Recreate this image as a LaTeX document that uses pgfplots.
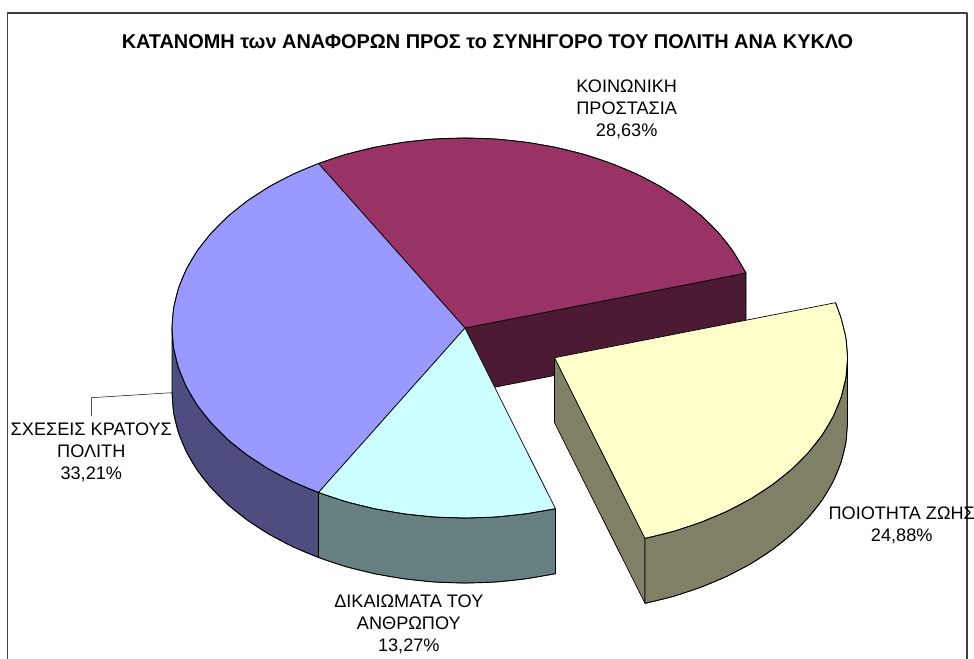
\documentclass[border=0pt]{standalone}
\usepackage{pgfplots}
\pgfplotsset{compat=1.18}
\usepackage{fontspec}
\setmainfont{Liberation Sans}
\definecolor{blueTop}{HTML}{9999FF}
\definecolor{blueSide}{HTML}{4D4D80}
\definecolor{maroonTop}{HTML}{993366}
\definecolor{maroonSide}{HTML}{4D1A33}
\definecolor{cyanTop}{HTML}{CCFFFF}
\definecolor{cyanSide}{HTML}{668080}
\definecolor{yellowTop}{HTML}{FFFFCC}
\definecolor{yellowSide}{HTML}{808066}
\begin{document}
\begin{tikzpicture}
\useasboundingbox (0,0) rectangle (974bp,659bp);
\begin{axis}[
  at={(0,0)}, anchor=south west,
  scale only axis, width=974bp, height=659bp,
  xmin=0, xmax=974, ymin=0, ymax=659, y dir=reverse,
  hide axis, clip=false,
  every axis plot/.append style={no markers, line join=round, line width=0.7bp, draw=black}
]
% frame
\addplot[sharp plot, draw=black!75, line width=1.1bp] coordinates {(7.5,659) (7.5,13) (967,13) (967,659)};
% maroon side wall
\addplot[sharp plot, fill=maroonSide] coordinates {(465,328) (746,273) (746,338) (465,393)} --cycle;
% maroon top
\addplot[sharp plot, fill=maroonTop] coordinates {(465,328) (746,273) (732.7,250.7) (718.7,233) (702,216.3) (682.7,200.9) (661,186.8) (637.2,174.3) (611.5,163.5) (584.2,154.4) (555.5,147.3) (525.9,142.2) (495.6,139) (465,138) (434.4,139) (404.1,142.2) (374.5,147.3) (345.8,154.4) (318.5,163.5)} --cycle;
% blue side wall
\addplot[sharp plot, fill=blueSide] coordinates {(172,328) (173.6,347.9) (178.4,367.5) (186.3,386.7) (197.3,405.3) (211.3,423) (228,439.7) (247.3,455.1) (269,469.2) (292.8,481.7) (318.5,492.5) (318.5,557.5) (292.8,546.7) (269,534.2) (247.3,520.1) (228,504.7) (211.3,488) (197.3,470.3) (186.3,451.7) (178.4,432.5) (173.6,412.9) (172,393)} --cycle;
% blue top
\addplot[sharp plot, fill=blueTop] coordinates {(465,328) (318.5,163.5) (292.8,174.3) (269,186.8) (247.3,200.9) (228,216.3) (211.3,233) (197.3,250.7) (186.3,269.3) (178.4,288.5) (173.6,308.1) (172,328) (173.6,347.9) (178.4,367.5) (186.3,386.7) (197.3,405.3) (211.3,423) (228,439.7) (247.3,455.1) (269,469.2) (292.8,481.7) (318.5,492.5)} --cycle;
% cyan side wall
\addplot[sharp plot, fill=cyanSide] coordinates {(318.5,492.5) (345.8,501.6) (374.5,508.7) (404.1,513.8) (434.4,517) (465,518) (495.6,517) (525.9,513.8) (555.5,508.7) (555.5,573.7) (525.9,578.8) (495.6,582) (465,583) (434.4,582) (404.1,578.8) (374.5,573.7) (345.8,566.6) (318.5,557.5)} --cycle;
% cyan top
\addplot[sharp plot, fill=cyanTop] coordinates {(465,328) (318.5,492.5) (345.8,501.6) (374.5,508.7) (404.1,513.8) (434.4,517) (465,518) (495.6,517) (525.9,513.8) (555.5,508.7)} --cycle;
% yellow walls (exploded slice)
\addplot[sharp plot, fill=yellowSide] coordinates {(554.5,357.7) (645,538.4) (645,603.4) (554.5,422.7)} --cycle;
\addplot[sharp plot, fill=yellowSide] coordinates {(847.5,357.7) (845.9,377.6) (841.1,397.2) (833.2,416.4) (822.2,435) (808.2,452.7) (791.5,469.4) (772.2,484.8) (750.5,498.9) (726.7,511.4) (701,522.2) (673.7,531.3) (645,538.4) (645,603.4) (673.7,596.3) (701,587.2) (726.7,576.4) (750.5,563.9) (772.2,549.8) (791.5,534.4) (808.2,517.7) (822.2,500) (833.2,481.4) (841.1,462.2) (845.9,442.6) (847.5,422.7)} --cycle;
% yellow top
\addplot[sharp plot, fill=yellowTop] coordinates {(554.5,357.7) (835.5,302.7) (841.1,318.2) (845.9,337.8) (847.5,357.7) (845.9,377.6) (841.1,397.2) (833.2,416.4) (822.2,435) (808.2,452.7) (791.5,469.4) (772.2,484.8) (750.5,498.9) (726.7,511.4) (701,522.2) (673.7,531.3) (645,538.4)} --cycle;
% smooth outer rims
\addplot[smooth] coordinates {(746,273) (732.7,250.7) (718.7,233) (702,216.3) (682.7,200.9) (661,186.8) (637.2,174.3) (611.5,163.5) (584.2,154.4) (555.5,147.3) (525.9,142.2) (495.6,139) (465,138) (434.4,139) (404.1,142.2) (374.5,147.3) (345.8,154.4) (318.5,163.5) (292.8,174.3) (269,186.8) (247.3,200.9) (228,216.3) (211.3,233) (197.3,250.7) (186.3,269.3) (178.4,288.5) (173.6,308.1) (172,328) (173.6,347.9) (178.4,367.5) (186.3,386.7) (197.3,405.3) (211.3,423) (228,439.7) (247.3,455.1) (269,469.2) (292.8,481.7) (318.5,492.5) (345.8,501.6) (374.5,508.7) (404.1,513.8) (434.4,517) (465,518) (495.6,517) (525.9,513.8) (555.5,508.7)};
\addplot[smooth] coordinates {(172,393) (173.6,412.9) (178.4,432.5) (186.3,451.7) (197.3,470.3) (211.3,488) (228,504.7) (247.3,520.1) (269,534.2) (292.8,546.7) (318.5,557.5) (345.8,566.6) (374.5,573.7) (404.1,578.8) (434.4,582) (465,583) (495.6,582) (525.9,578.8) (555.5,573.7)};
\addplot[smooth] coordinates {(835.5,302.7) (841.1,318.2) (845.9,337.8) (847.5,357.7) (845.9,377.6) (841.1,397.2) (833.2,416.4) (822.2,435) (808.2,452.7) (791.5,469.4) (772.2,484.8) (750.5,498.9) (726.7,511.4) (701,522.2) (673.7,531.3) (645,538.4)};
\addplot[smooth] coordinates {(645,603.4) (673.7,596.3) (701,587.2) (726.7,576.4) (750.5,563.9) (772.2,549.8) (791.5,534.4) (808.2,517.7) (822.2,500) (833.2,481.4) (841.1,462.2) (845.9,442.6) (847.5,422.7)};
% leader line
\addplot[sharp plot, line width=0.5bp] coordinates {(171.7,392.7) (91.3,397.7) (91.3,416)};
% texts
\node[font=\fontsize{20}{24}\selectfont\bfseries, anchor=center] at (axis cs:487.5,42) {ΚΑΤΑΝΟΜΗ των ΑΝΑΦΟΡΩΝ ΠΡΟΣ το ΣΥΝΗΓΟΡΟ ΤΟΥ ΠΟΛΙΤΗ ΑΝΑ ΚΥΚΛΟ};
\node[font=\fontsize{18.2}{22}\selectfont, align=center, anchor=center] at (axis cs:626.7,109) {ΚΟΙΝΩΝΙΚΗ\\ΠΡΟΣΤΑΣΙΑ\\28,63\%};
\node[font=\fontsize{18.2}{22}\selectfont, align=center, anchor=center] at (axis cs:91.3,452) {ΣΧΕΣΕΙΣ ΚΡΑΤΟΥΣ\\ΠΟΛΙΤΗ\\33,21\%};
\node[font=\fontsize{18.2}{22}\selectfont, align=center, anchor=center] at (axis cs:408.8,624) {ΔΙΚΑΙΩΜΑΤΑ ΤΟΥ\\ΑΝΘΡΩΠΟΥ\\13,27\%};
\node[font=\fontsize{18.2}{22}\selectfont, align=center, anchor=center] at (axis cs:901.7,525) {ΠΟΙΟΤΗΤΑ ΖΩΗΣ\\24,88\%};
\end{axis}
\end{tikzpicture}
\end{document}
